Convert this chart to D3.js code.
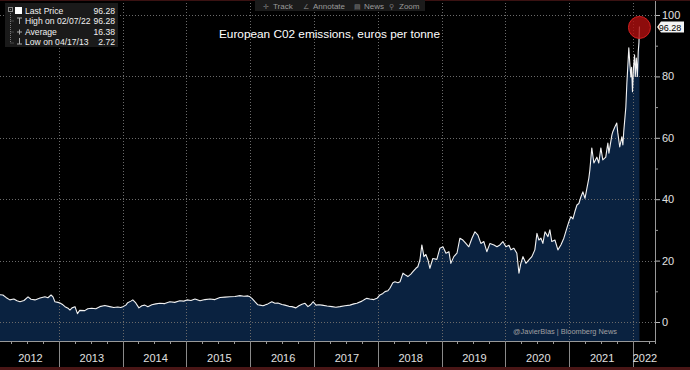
<!DOCTYPE html>
<html>
<head>
<meta charset="utf-8">
<script src="https://cdn.jsdelivr.net/npm/d3@7"></script>
<style>
  html, body { margin: 0; padding: 0; background: #000; }
  svg { display: block; font-family: "Liberation Sans", Arial, sans-serif; }
</style>
</head>
<body>
<div id="chart"></div>
<script>
// EUA price, euros per tonne
var dates = [
  "2012-01-29","2012-02-15","2012-03-04","2012-03-26","2012-04-18","2012-05-06","2012-05-23","2012-06-15",
  "2012-07-08","2012-07-25","2012-08-17","2012-09-15","2012-10-13","2012-10-30","2012-11-17","2012-11-28",
  "2012-12-09","2012-12-27","2013-01-07","2013-01-24","2013-02-05","2013-02-22","2013-03-05","2013-03-17",
  "2013-04-03","2013-04-17","2013-04-30","2013-05-29","2013-06-15","2013-07-08","2013-07-31","2013-08-23",
  "2013-09-21","2013-10-19","2013-11-11","2013-12-04","2013-12-21","2014-01-02","2014-01-19","2014-01-30",
  "2014-02-17","2014-02-28","2014-03-17","2014-04-04","2014-04-21","2014-05-08","2014-05-25","2014-06-17",
  "2014-07-10","2014-08-02","2014-08-30","2014-09-28","2014-10-26","2014-11-24","2014-12-17","2015-01-04",
  "2015-01-27","2015-02-19","2015-03-20","2015-04-17","2015-05-16","2015-06-13","2015-07-12","2015-08-10",
  "2015-09-07","2015-10-06","2015-11-03","2015-11-26","2015-12-19","2015-12-31","2016-01-11","2016-01-28",
  "2016-02-14","2016-02-26","2016-03-14","2016-03-25","2016-04-11","2016-05-04","2016-05-22","2016-06-08",
  "2016-07-01","2016-07-18","2016-08-10","2016-08-27","2016-09-19","2016-10-06","2016-10-24","2016-11-10",
  "2016-11-27","2016-12-14","2016-12-26","2017-01-12","2017-01-29","2017-02-15","2017-03-16","2017-04-13",
  "2017-05-06","2017-05-29","2017-06-27","2017-07-25","2017-08-17","2017-09-03","2017-10-02","2017-10-19",
  "2017-10-30","2017-11-16","2017-12-09","2017-12-27","2018-01-13","2018-01-30","2018-02-11","2018-02-28",
  "2018-03-11","2018-03-28","2018-04-09","2018-04-26","2018-05-08","2018-05-25","2018-06-11","2018-06-22",
  "2018-07-09","2018-07-21","2018-08-07","2018-08-18","2018-08-30","2018-09-10","2018-09-22","2018-10-03",
  "2018-10-15","2018-10-26","2018-11-12","2018-12-05","2018-12-22","2019-01-09","2019-01-26","2019-02-12",
  "2019-02-23","2019-03-12","2019-03-30","2019-04-16","2019-05-03","2019-05-20","2019-06-06","2019-06-24",
  "2019-07-11","2019-07-28","2019-08-14","2019-08-31","2019-09-17","2019-10-05","2019-10-28","2019-11-14",
  "2019-12-01","2019-12-18","2020-01-04","2020-01-22","2020-02-02","2020-02-19","2020-03-07","2020-03-19",
  "2020-03-30","2020-04-11","2020-04-28","2020-05-15","2020-06-01","2020-06-18","2020-06-30","2020-07-11",
  "2020-07-23","2020-08-03","2020-08-15","2020-09-01","2020-09-12","2020-09-23","2020-10-11","2020-10-28",
  "2020-11-14","2020-12-01","2020-12-18","2020-12-30","2021-01-10","2021-01-22","2021-02-02","2021-02-14",
  "2021-02-25","2021-03-09","2021-03-20","2021-04-01","2021-04-12","2021-04-23","2021-04-29","2021-05-10",
  "2021-05-22","2021-06-08","2021-06-19","2021-07-01","2021-07-12","2021-07-29","2021-08-10","2021-08-16",
  "2021-09-02","2021-09-07","2021-09-19","2021-09-30","2021-10-06","2021-10-17","2021-10-29","2021-11-04",
  "2021-11-09","2021-11-21","2021-11-27","2021-12-02","2021-12-08","2021-12-14","2021-12-20","2021-12-24",
  "2021-12-29","2022-01-04","2022-01-10","2022-01-14","2022-01-20","2022-01-26","2022-01-31","2022-02-04",
  "2022-02-07"
];
var prices = [
  8.9, 8.8, 8.0, 7.2, 7.5, 6.9, 6.6, 7.0,
  8.2, 7.4, 7.2, 7.8, 8.2, 7.9, 8.8, 8.2,
  6.6, 6.4, 6.2, 5.6, 5.0, 4.5, 3.9, 4.6,
  5.0, 2.72, 3.8, 3.7, 4.3, 4.5, 4.3, 5.0,
  5.4, 5.0, 4.7, 4.9, 4.7, 5.0, 5.5, 6.3,
  6.8, 7.2, 6.2, 4.6, 5.3, 5.5, 5.0, 5.6,
  5.9, 6.1, 6.0, 6.6, 6.4, 6.9, 6.8, 7.2,
  7.0, 7.5, 6.9, 7.3, 7.5, 7.3, 8.0, 8.1,
  8.2, 8.3, 8.6, 8.4, 8.5, 8.2, 7.7, 6.6,
  5.6, 5.5, 5.3, 5.5, 5.9, 6.6, 6.1, 6.2,
  5.7, 5.5, 5.1, 5.0, 4.6, 5.3, 5.8, 6.1,
  5.0, 5.7, 6.6, 5.5, 5.6, 5.5, 5.2, 5.0,
  4.8, 5.0, 5.3, 5.5, 5.9, 6.1, 6.8, 7.4,
  7.7, 7.5, 7.3, 7.7, 8.8, 9.3, 9.9, 10.2,
  11.0, 12.8, 13.1, 12.8, 13.1, 15.9, 15.2, 14.8,
  15.6, 16.4, 17.5, 18.0, 20.2, 25.1, 21.3, 22.0,
  20.2, 17.5, 20.7, 20.4, 24.0, 24.5, 22.4, 22.9,
  19.1, 21.3, 22.4, 27.3, 26.7, 25.6, 24.5, 27.3,
  29.4, 28.3, 25.6, 26.2, 22.9, 25.6, 25.1, 24.5,
  25.1, 26.2, 24.5, 25.0, 23.5, 24.0, 22.4, 15.9,
  19.1, 21.3, 19.1, 20.2, 21.3, 23.5, 28.9, 26.7,
  27.3, 25.6, 29.4, 27.8, 30.0, 26.2, 26.7, 23.5,
  25.1, 27.3, 30.5, 32.7, 34.3, 33.6, 35.9, 38.1,
  38.6, 40.8, 42.4, 40.3, 43.5, 46.8, 49.5, 56.7,
  51.8, 53.7, 51.8, 56.7, 52.8, 53.7, 58.3, 55.0,
  60.9, 61.9, 63.5, 64.8, 61.6, 57.0, 60.3, 57.7,
  62.0, 70.0, 77.9, 83.0, 89.3, 84.0, 79.8, 83.0,
  75.0, 83.0, 87.0, 80.0, 86.0, 80.0, 88.0, 91.0,
  96.28
];
var yTicks = [0, 20, 40, 60, 80, 100];
var years = [2012, 2013, 2014, 2015, 2016, 2017, 2018, 2019, 2020, 2021, 2022];
var legendLabels = ["Last Price", "High on 02/07/22", "Average", "Low on 04/17/13"];
var legendValues = ["96.28", "96.28", "16.38", "2.72"];
var toolbarItems = ["Track", "Annotate", "News", "Zoom"];
var title = "European C02 emissions, euros per tonne";
var credit = "@JavierBlas | Bloomberg News";

var W = 690, H = 370;
var plotRight = 655, plotBottom = 341;
var parse = d3.timeParse("%Y-%m-%d");
var data = dates.map(function(d, i) { return {date: parse(d), value: prices[i]}; });

var svg = d3.select("#chart").append("svg")
  .attr("width", W).attr("height", H);

svg.append("rect").attr("width", W).attr("height", H).attr("fill", "#000");

var x = d3.scaleTime()
  .domain([new Date(2012, 0, 1), new Date(2022, 0, 1)])
  .range([-5, 633]);
var y = d3.scaleLinear().domain([0, 100]).range([322, 15]);

svg.append("clipPath").attr("id", "plotclip")
  .append("rect").attr("x", 0).attr("y", 0).attr("width", plotRight).attr("height", plotBottom);

var plot = svg.append("g").attr("clip-path", "url(#plotclip)");

// area under the line
plot.append("path")
  .datum(data)
  .attr("fill", "#0a2240")
  .attr("d", d3.area()
    .x(function(d) { return x(d.date); })
    .y0(plotBottom)
    .y1(function(d) { return y(d.value); }));

// dotted grid
var yearStarts = years.slice(1).map(function(yr) { return new Date(yr, 0, 1); });
plot.selectAll(".hgrid").data(yTicks).enter().append("line")
  .attr("x1", 0).attr("x2", plotRight)
  .attr("y1", function(d) { return Math.round(y(d)) + 0.5; })
  .attr("y2", function(d) { return Math.round(y(d)) + 0.5; })
  .attr("stroke", "#6a6a6a").attr("stroke-width", 1).attr("stroke-dasharray", "1,2");
plot.selectAll(".vgrid").data(yearStarts).enter().append("line")
  .attr("x1", function(d) { return Math.round(x(d)) + 0.5; })
  .attr("x2", function(d) { return Math.round(x(d)) + 0.5; })
  .attr("y1", 0).attr("y2", plotBottom)
  .attr("stroke", "#6a6a6a").attr("stroke-width", 1).attr("stroke-dasharray", "1,2");

// price line
plot.append("path")
  .datum(data)
  .attr("fill", "none")
  .attr("stroke", "#f2f2f2")
  .attr("stroke-width", 1.1)
  .attr("stroke-linejoin", "round")
  .attr("d", d3.line()
    .x(function(d) { return x(d.date); })
    .y(function(d) { return y(d.value); }));

// watermark
svg.append("text")
  .attr("x", 617).attr("y", 334).attr("text-anchor", "end")
  .attr("font-size", 7.4).attr("fill", "#a0a0a0")
  .text(credit);

// right axis
var yAxis = d3.axisRight(y).tickValues(yTicks).tickSize(5).tickPadding(2);
var ya = svg.append("g").attr("transform", "translate(" + plotRight + ",0)").call(yAxis);
ya.select(".domain").remove();
ya.selectAll("line").attr("stroke", "#bbb");
ya.selectAll("text").attr("fill", "#e0e0e0").attr("font-size", 11)
  .attr("font-family", "Liberation Sans, Arial, sans-serif");
svg.append("g").attr("transform", "translate(" + plotRight + ",0)")
  .call(d3.axisRight(y).tickValues([10, 30, 50, 70, 90]).tickSize(3).tickFormat(""))
  .call(function(g) { g.select(".domain").remove(); g.selectAll("line").attr("stroke", "#999"); });
svg.append("line")
  .attr("x1", plotRight + 0.5).attr("x2", plotRight + 0.5)
  .attr("y1", 0).attr("y2", plotBottom + 3)
  .attr("stroke", "#999");

// bottom axis
svg.append("line")
  .attr("x1", 0).attr("x2", plotRight).attr("y1", plotBottom + 0.5).attr("y2", plotBottom + 0.5)
  .attr("stroke", "#999");
var quarters = d3.timeMonth.every(3).range(new Date(2012, 0, 1), new Date(2022, 6, 1))
  .filter(function(d) { return d.getMonth() !== 0 && x(d) > 0 && x(d) < plotRight; });
svg.selectAll(".qtick").data(quarters).enter().append("line")
  .attr("x1", function(d) { return Math.round(x(d)) + 0.5; })
  .attr("x2", function(d) { return Math.round(x(d)) + 0.5; })
  .attr("y1", plotBottom).attr("y2", plotBottom + 3)
  .attr("stroke", "#999");
svg.selectAll(".ytick").data(yearStarts).enter().append("line")
  .attr("x1", function(d) { return Math.round(x(d)) + 0.5; })
  .attr("x2", function(d) { return Math.round(x(d)) + 0.5; })
  .attr("y1", plotBottom).attr("y2", H - 3)
  .attr("stroke", "#8a8a8a");
svg.selectAll(".ylabel").data(years).enter().append("text")
  .attr("x", function(yr) {
    var a = Math.max(0, x(new Date(yr, 0, 1)));
    var b = Math.min(plotRight, x(new Date(yr + 1, 0, 1)));
    return (a + b) / 2 + 1;
  })
  .attr("y", 362).attr("text-anchor", "middle")
  .attr("font-size", 11).attr("fill", "#e0e0e0")
  .text(function(d) { return d; });

// bottom and top strips
svg.append("rect").attr("x", 0).attr("y", H - 3).attr("width", W).attr("height", 3).attr("fill", "#4a1616");
svg.append("rect").attr("x", 0).attr("y", 0).attr("width", W).attr("height", 1).attr("fill", "#3a1212");

// last price marker
var last = data[data.length - 1];
svg.append("circle")
  .attr("cx", x(last.date)).attr("cy", y(last.value) + 1).attr("r", 11)
  .attr("fill", "#b00f0f").attr("fill-opacity", 0.8)
  .attr("stroke", "#d02020").attr("stroke-width", 1);
var ty = Math.round(y(last.value)) + 1;
svg.append("path")
  .attr("d", "M" + (plotRight + 2) + "," + ty + "L" + (plotRight + 6) + "," + (ty - 5.5) +
    "L684," + (ty - 5.5) + "L684," + (ty + 5.5) + "L" + (plotRight + 6) + "," + (ty + 5.5) + "Z")
  .attr("fill", "#f4f4f4");
svg.append("text")
  .attr("x", 670).attr("y", ty + 3.5).attr("text-anchor", "middle")
  .attr("font-size", 9).attr("fill", "#000")
  .text(legendValues[0]);

// title
svg.append("text")
  .attr("x", 219).attr("y", 38)
  .attr("font-size", 11.8).attr("fill", "#fff")
  .text(title);

// toolbar
svg.append("rect").attr("x", 255).attr("y", 0).attr("width", 170).attr("height", 11).attr("fill", "#1b1b1b");
var toolX = [273, 313, 364, 399];
var toolIcons = ["\u271B", "\u2220", "\u25A4", "\u26B2"];
svg.selectAll(".tool").data(toolbarItems).enter().append("text")
  .attr("x", function(d, i) { return toolX[i]; }).attr("y", 8.5)
  .attr("font-size", 8).attr("fill", "#9a9a9a")
  .text(function(d) { return d; });
svg.selectAll(".toolicon").data(toolIcons).enter().append("text")
  .attr("x", function(d, i) { return toolX[i] - 10; }).attr("y", 8.5)
  .attr("font-size", 7).attr("fill", "#777")
  .attr("font-family", "DejaVu Sans")
  .text(function(d) { return d; });

// legend box
var lg = svg.append("g");
lg.append("rect").attr("x", 5).attr("y", 3).attr("width", 113).attr("height", 44).attr("fill", "#1a1a1a");
lg.append("path")
  .attr("d", "M10.5,9V43M10.5,21H14M10.5,32H14M10.5,43H14")
  .attr("stroke", "#777").attr("stroke-dasharray", "1,1").attr("fill", "none");
lg.append("rect").attr("x", 8.5).attr("y", 7.5).attr("width", 4).attr("height", 4)
  .attr("fill", "none").attr("stroke", "#888");
lg.append("rect").attr("x", 15).attr("y", 7).attr("width", 7).attr("height", 7).attr("fill", "#fff");
lg.append("path")
  .attr("d", "M17,18H22M19.5,18V24M17,32H22M19.5,29.5V34.5M17,44H22M19.5,38V44")
  .attr("stroke", "#aaa").attr("fill", "none");
lg.selectAll(".ll").data(legendLabels).enter().append("text")
  .attr("x", 25).attr("y", function(d, i) { return 14 + i * 10.3; })
  .attr("font-size", 8.6).attr("fill", "#f0f0f0")
  .text(function(d) { return d; });
lg.selectAll(".lv").data(legendValues).enter().append("text")
  .attr("x", 115).attr("y", function(d, i) { return 14 + i * 10.3; })
  .attr("text-anchor", "end")
  .attr("font-size", 8.6).attr("fill", "#f0f0f0")
  .text(function(d) { return d; });
</script>
</body>
</html>
